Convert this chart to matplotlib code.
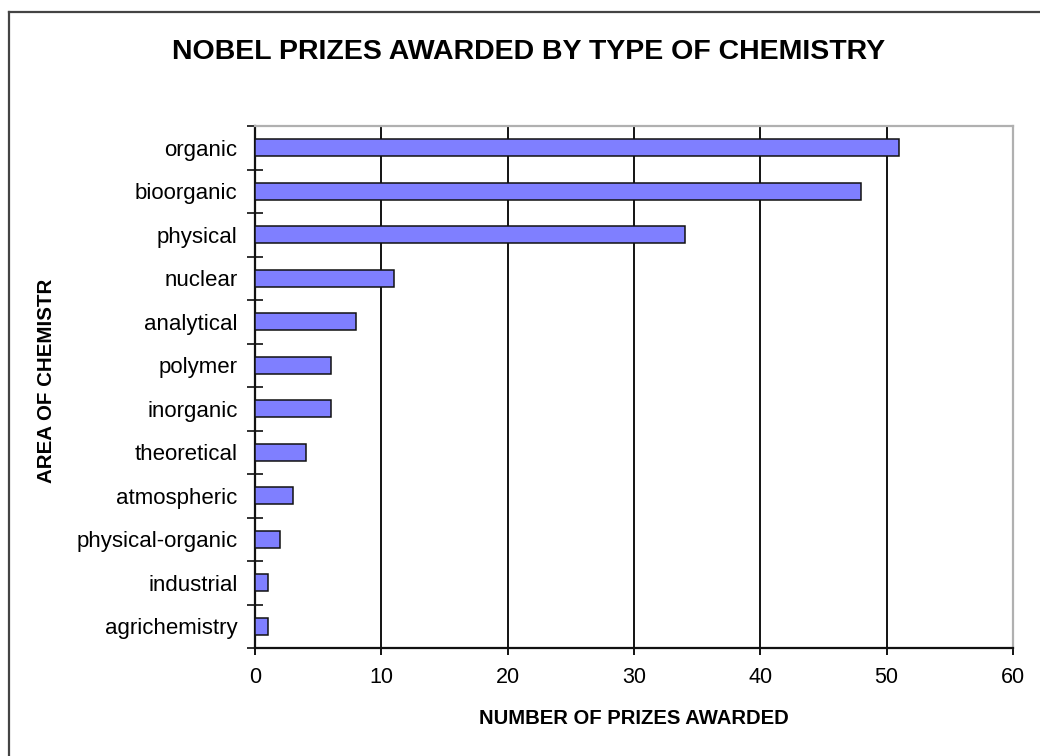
import matplotlib
matplotlib.use("Agg")
import matplotlib.pyplot as plt
from matplotlib.lines import Line2D
import numpy as np

plt.rcParams["font.family"] = ["Liberation Sans", "DejaVu Sans"]

categories = [
    "organic", "bioorganic", "physical", "nuclear", "analytical", "polymer",
    "inorganic", "theoretical", "atmospheric", "physical-organic",
    "industrial", "agrichemistry",
]
prizes = [51, 48, 34, 11, 8, 6, 6, 4, 3, 2, 1, 1]
x_ticks = [0, 10, 20, 30, 40, 50, 60]

title = "NOBEL PRIZES AWARDED BY TYPE OF CHEMISTRY"
x_label = "NUMBER OF PRIZES AWARDED"
y_label = "AREA OF CHEMISTR"

W, H = 1040, 756
fig = plt.figure(figsize=(W / 100, H / 100), dpi=100)
fig.patch.set_facecolor("white")

ax = fig.add_axes([255 / W, 1 - 648 / H, (1013 - 255) / W, (648 - 126) / H])

pos = np.arange(len(categories))
ax.barh(pos, prizes, height=0.4, color="#7F7FFF", edgecolor="#111111",
        linewidth=1.1, zorder=3)

ax.set_xlim(0, 60)
ax.set_ylim(len(categories) - 0.5, -0.5)

# vertical gridlines
ax.set_xticks(x_ticks)
ax.set_xticklabels([str(t) for t in x_ticks], fontsize=15.5)
ax.xaxis.grid(True, color="black", linewidth=1.3, zorder=1)
ax.tick_params(axis="x", direction="out", length=5, width=1.3,
               color="black", pad=9)

# category labels centred, tick marks on the boundaries
ax.set_yticks(pos)
ax.set_yticklabels(categories, fontsize=16)
ax.tick_params(axis="y", which="major", length=0, pad=12.5)
ax.set_yticks(np.arange(-0.5, len(categories)), minor=True)
ax.tick_params(axis="y", which="minor", direction="inout", length=11,
               width=1.3, color="#222222")

for side in ("left", "bottom"):
    ax.spines[side].set_color("#111111")
    ax.spines[side].set_linewidth(1.6)
for side in ("top", "right"):
    ax.spines[side].set_color("#b0b0b0")
    ax.spines[side].set_linewidth(1.6)
ax.set_axisbelow(True)

fig.text(529 / W, 1 - 52 / H, title, ha="center", va="center",
         fontsize=20.5, fontweight="bold")
fig.text(634 / W, 1 - 719 / H, x_label, ha="center", va="center",
         fontsize=14.6, fontweight="bold")
fig.text(47 / W, 1 - 381 / H, y_label, ha="center", va="center",
         rotation=90, fontsize=14.8, fontweight="bold")

# outer chart frame
fx, fy = 9 / W, 1 - 12 / H
fig.add_artist(Line2D([fx, fx], [0, fy], transform=fig.transFigure,
                      color="#444444", linewidth=1.6))
fig.add_artist(Line2D([fx, 1], [fy, fy], transform=fig.transFigure,
                      color="#444444", linewidth=1.6))

fig.savefig("out.png", dpi=100)
